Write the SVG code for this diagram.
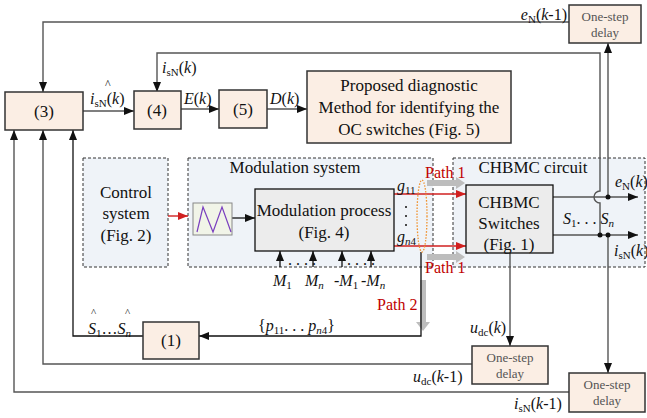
<svg xmlns="http://www.w3.org/2000/svg" width="647" height="418" viewBox="0 0 647 418" font-family="'Liberation Serif', 'DejaVu Serif', serif">
<defs>
<style>
text{font-family:"Liberation Serif","DejaVu Serif",serif;fill:#111}
.box{fill:#fbeee4;stroke:#333;stroke-width:1.5}
.gbox{fill:#ececec;stroke:#111;stroke-width:1.3}
.reg{fill:#eff3f8;stroke:#333;stroke-width:1;stroke-dasharray:3 2}
.c{fill:none;stroke:#555;stroke-width:1.4}
.cb{fill:none;stroke:#111;stroke-width:1.3}
.red{fill:none;stroke:#d02020;stroke-width:1.4}
.n{font-size:17px;text-anchor:middle}
.d{font-size:13px;text-anchor:middle;fill:#555}
.m{font-size:16px}
.i{font-style:italic}
.s{font-size:11px}
.p{font-size:16px;fill:#c00000}
.gray{fill:#bdbdbd}
.dot{fill:#111}
</style>
<marker id="ah" viewBox="0 0 10 8" refX="10" refY="4" markerWidth="10" markerHeight="8" markerUnits="userSpaceOnUse" orient="auto"><path d="M0,0L10,4L0,8z" fill="#111"/></marker>
<marker id="ar" viewBox="0 0 10 8" refX="10" refY="4" markerWidth="10" markerHeight="8" markerUnits="userSpaceOnUse" orient="auto"><path d="M0,0L10,4L0,8z" fill="#d02020"/></marker>
</defs>
<rect x="0" y="0" width="647" height="418" fill="#fff"/>

<g id="control">
<rect class="reg" x="83" y="158" width="85" height="109"/>
<text class="n" x="126" y="198">Control</text>
<text class="n" x="126" y="219">system</text>
<text class="n" x="126" y="241">(Fig. 2)</text>
</g>
<g id="modulation-system">
<rect class="reg" x="188" y="158" width="245" height="109"/>
<text class="n" x="295" y="173">Modulation system</text>
</g>
<g id="chbmc-circuit">
<rect class="reg" x="453" y="158" width="192" height="109"/>
<text class="n" x="533" y="173">CHBMC circuit</text>
</g>

<g id="connectors">
<path class="c" d="M569,22H43V92" marker-end="url(#ah)"/>
<path class="c" d="M600,235V203A6,6 0 0 1 600,191V53H157V92" marker-end="url(#ah)"/>
<path class="c" d="M83,111H134" marker-end="url(#ah)"/>
<path class="c" d="M181,109H219" marker-end="url(#ah)"/>
<path class="c" d="M267,109H307" marker-end="url(#ah)"/>
<path class="c" d="M608,197V43" marker-end="url(#ah)"/>
<path class="c" d="M553,197H638" marker-end="url(#ah)"/>
<path class="c" d="M553,235H638" marker-end="url(#ah)"/>
<path class="c" d="M608,235V373" marker-end="url(#ah)"/>
<path class="c" d="M510,253V346" marker-end="url(#ah)"/>
<path class="c" d="M472,364H43V130" marker-end="url(#ah)"/>
<path class="c" d="M569,392H14V130" marker-end="url(#ah)"/>
<path class="cb" d="M143,336H73V130" marker-end="url(#ah)"/>
<polygon class="gray" points="420,280 426,280 426,322 430,322 423,331 416,322 420,322"/>
<path class="cb" d="M421,252V336H199" marker-end="url(#ah)"/>
<path class="red" d="M168,216H188" marker-end="url(#ar)"/>
<path class="cb" d="M232,218H255" marker-end="url(#ah)"/>
<path class="cb" d="M280,267V251" marker-end="url(#ah)"/>
<path class="cb" d="M313,267V251" marker-end="url(#ah)"/>
<path class="cb" d="M342,267V251" marker-end="url(#ah)"/>
<path class="cb" d="M371,267V251" marker-end="url(#ah)"/>
<path class="red" d="M394,194H466" marker-end="url(#ar)"/>
<path class="red" d="M394,246H466" marker-end="url(#ar)"/>
<polygon class="gray" points="427,180 456,180 456,177 465,183 456,189 456,186 427,186"/>
<polygon class="gray" points="427,254 456,254 456,251 465,257 456,263 456,260 427,260"/>
<ellipse cx="422" cy="216" rx="5" ry="36" fill="none" stroke="#f0902a" stroke-width="1.3" stroke-dasharray="1.5 1.5"/>
<circle class="dot" cx="608" cy="197" r="2.5"/>
<circle class="dot" cx="600" cy="235" r="2.5"/>
<circle class="dot" cx="608" cy="235" r="2.5"/>
</g>

<g id="n3"><rect class="box" x="5" y="92" width="78" height="38"/><text class="n" x="44" y="117">(3)</text></g>
<g id="n4"><rect class="box" x="134" y="91" width="47" height="38"/><text class="n" x="157" y="116">(4)</text></g>
<g id="n5"><rect class="box" x="219" y="90" width="48" height="38"/><text class="n" x="243" y="115">(5)</text></g>
<g id="diagnostic"><rect class="box" x="307" y="71" width="204" height="72"/>
<text class="n" x="409" y="91" font-size="18.5">Proposed diagnostic</text>
<text class="n" x="409" y="113" font-size="18.5">Method for identifying the</text>
<text class="n" x="409" y="135" font-size="18.5">OC switches (Fig. 5)</text></g>
<g id="delay-top"><rect class="box" x="569" y="5" width="72" height="38"/><text class="d" x="605" y="21">One-step</text><text class="d" x="605" y="37">delay</text></g>
<g id="delay-udc"><rect class="box" x="472" y="346" width="76" height="38"/><text class="d" x="510" y="362">One-step</text><text class="d" x="510" y="378">delay</text></g>
<g id="delay-isn"><rect class="box" x="569" y="373" width="76" height="39"/><text class="d" x="607" y="389">One-step</text><text class="d" x="607" y="405">delay</text></g>
<g id="n1"><rect class="box" x="143" y="322" width="56" height="37"/><text class="n" x="171" y="346">(1)</text></g>
<g id="triangle"><rect x="193" y="203" width="39" height="32" fill="#f1f4e8" stroke="#888" stroke-width="1"/>
<polyline points="197,232 203,207 213,232 222,207 231,232" fill="none" stroke="#7a3fbf" stroke-width="1.2"/></g>
<g id="modulation-process"><rect class="gbox" x="255" y="189" width="139" height="62"/>
<text class="n" x="324" y="216">Modulation process</text><text class="n" x="324" y="238">(Fig. 4)</text></g>
<g id="switches"><rect class="gbox" x="466" y="185" width="87" height="68"/>
<text class="n" x="509" y="208">CHBMC</text><text class="n" x="509" y="229">Switches</text><text class="n" x="509" y="250">(Fig. 1)</text></g>

<g id="labels">
<text class="m" x="567" y="20" text-anchor="end"><tspan class="i">e</tspan><tspan class="s" dy="3">N</tspan><tspan dy="-3">(</tspan><tspan class="i">k</tspan>-1)</text>
<text class="m" x="162" y="73"><tspan class="i">i</tspan><tspan class="s" dy="3">sN</tspan><tspan dy="-3">(</tspan><tspan class="i">k</tspan>)</text>
<text class="m" x="90" y="104"><tspan class="i">i</tspan><tspan class="s" dy="3">sN</tspan><tspan dy="-3">(</tspan><tspan class="i">k</tspan>)</text>
<text x="105" y="88" font-size="12">^</text>
<text class="m" x="184" y="104"><tspan class="i">E</tspan>(<tspan class="i">k</tspan>)</text>
<text class="m" x="270" y="104"><tspan class="i">D</tspan>(<tspan class="i">k</tspan>)</text>
<text class="m" x="615" y="187"><tspan class="i">e</tspan><tspan class="s" dy="3">N</tspan><tspan dy="-3">(</tspan><tspan class="i">k</tspan>)</text>
<text class="m" x="614" y="256"><tspan class="i">i</tspan><tspan class="s" dy="3">sN</tspan><tspan dy="-3">(</tspan><tspan class="i">k</tspan>)</text>
<text class="m" x="563" y="224"><tspan class="i">S</tspan><tspan class="s" dy="3">1</tspan><tspan dy="-3">. . . </tspan><tspan class="i">S</tspan><tspan class="s i" dy="3">n</tspan></text>
<text class="m" x="470" y="333"><tspan class="i">u</tspan><tspan class="s" dy="3">dc</tspan><tspan dy="-3">(</tspan><tspan class="i">k</tspan>)</text>
<text class="m" x="413" y="382"><tspan class="i">u</tspan><tspan class="s" dy="3">dc</tspan><tspan dy="-3">(</tspan><tspan class="i">k</tspan>-1)</text>
<text class="m" x="514" y="409"><tspan class="i">i</tspan><tspan class="s" dy="3">sN</tspan><tspan dy="-3">(</tspan><tspan class="i">k</tspan>-1)</text>
<text class="m" x="258" y="331">{<tspan class="i">p</tspan><tspan class="s" dy="3">11</tspan><tspan dy="-3">. . . </tspan><tspan class="i">p</tspan><tspan class="s" dy="3"><tspan class="i">n</tspan>4</tspan><tspan dy="-3">}</tspan></text>
<text class="m" x="88" y="334"><tspan class="i">S</tspan><tspan class="s" dy="3">1</tspan><tspan dy="-3">…</tspan><tspan class="i">S</tspan><tspan class="s i" dy="3">n</tspan></text>
<text x="91" y="316" font-size="11">^</text>
<text x="125" y="316" font-size="11">^</text>
<text class="m" x="273" y="286"><tspan class="i">M</tspan><tspan class="s" dy="3">1</tspan></text>
<text class="m" x="305" y="286"><tspan class="i">M</tspan><tspan class="s i" dy="3">n</tspan></text>
<text class="m" x="334" y="286">-<tspan class="i">M</tspan><tspan class="s" dy="3">1</tspan></text>
<text class="m" x="361" y="286">-<tspan class="i">M</tspan><tspan class="s i" dy="3">n</tspan></text>
<text class="m" x="288" y="265">. . . .</text>
<text class="m" x="347" y="265">. . . .</text>
<text class="m" x="397" y="191"><tspan class="i">g</tspan><tspan class="s" dy="3">11</tspan></text>
<text class="m" x="397" y="242"><tspan class="i">g</tspan><tspan class="s" dy="3"><tspan class="i">n</tspan>4</tspan></text>
<circle class="dot" cx="406" cy="207" r="1"/>
<circle class="dot" cx="406" cy="216" r="1"/>
<circle class="dot" cx="406" cy="225" r="1"/>
<text class="p" x="425" y="178">Path 1</text>
<text class="p" x="425" y="273">Path 1</text>
<text class="p" x="377" y="310">Path 2</text>
</g>
</svg>
